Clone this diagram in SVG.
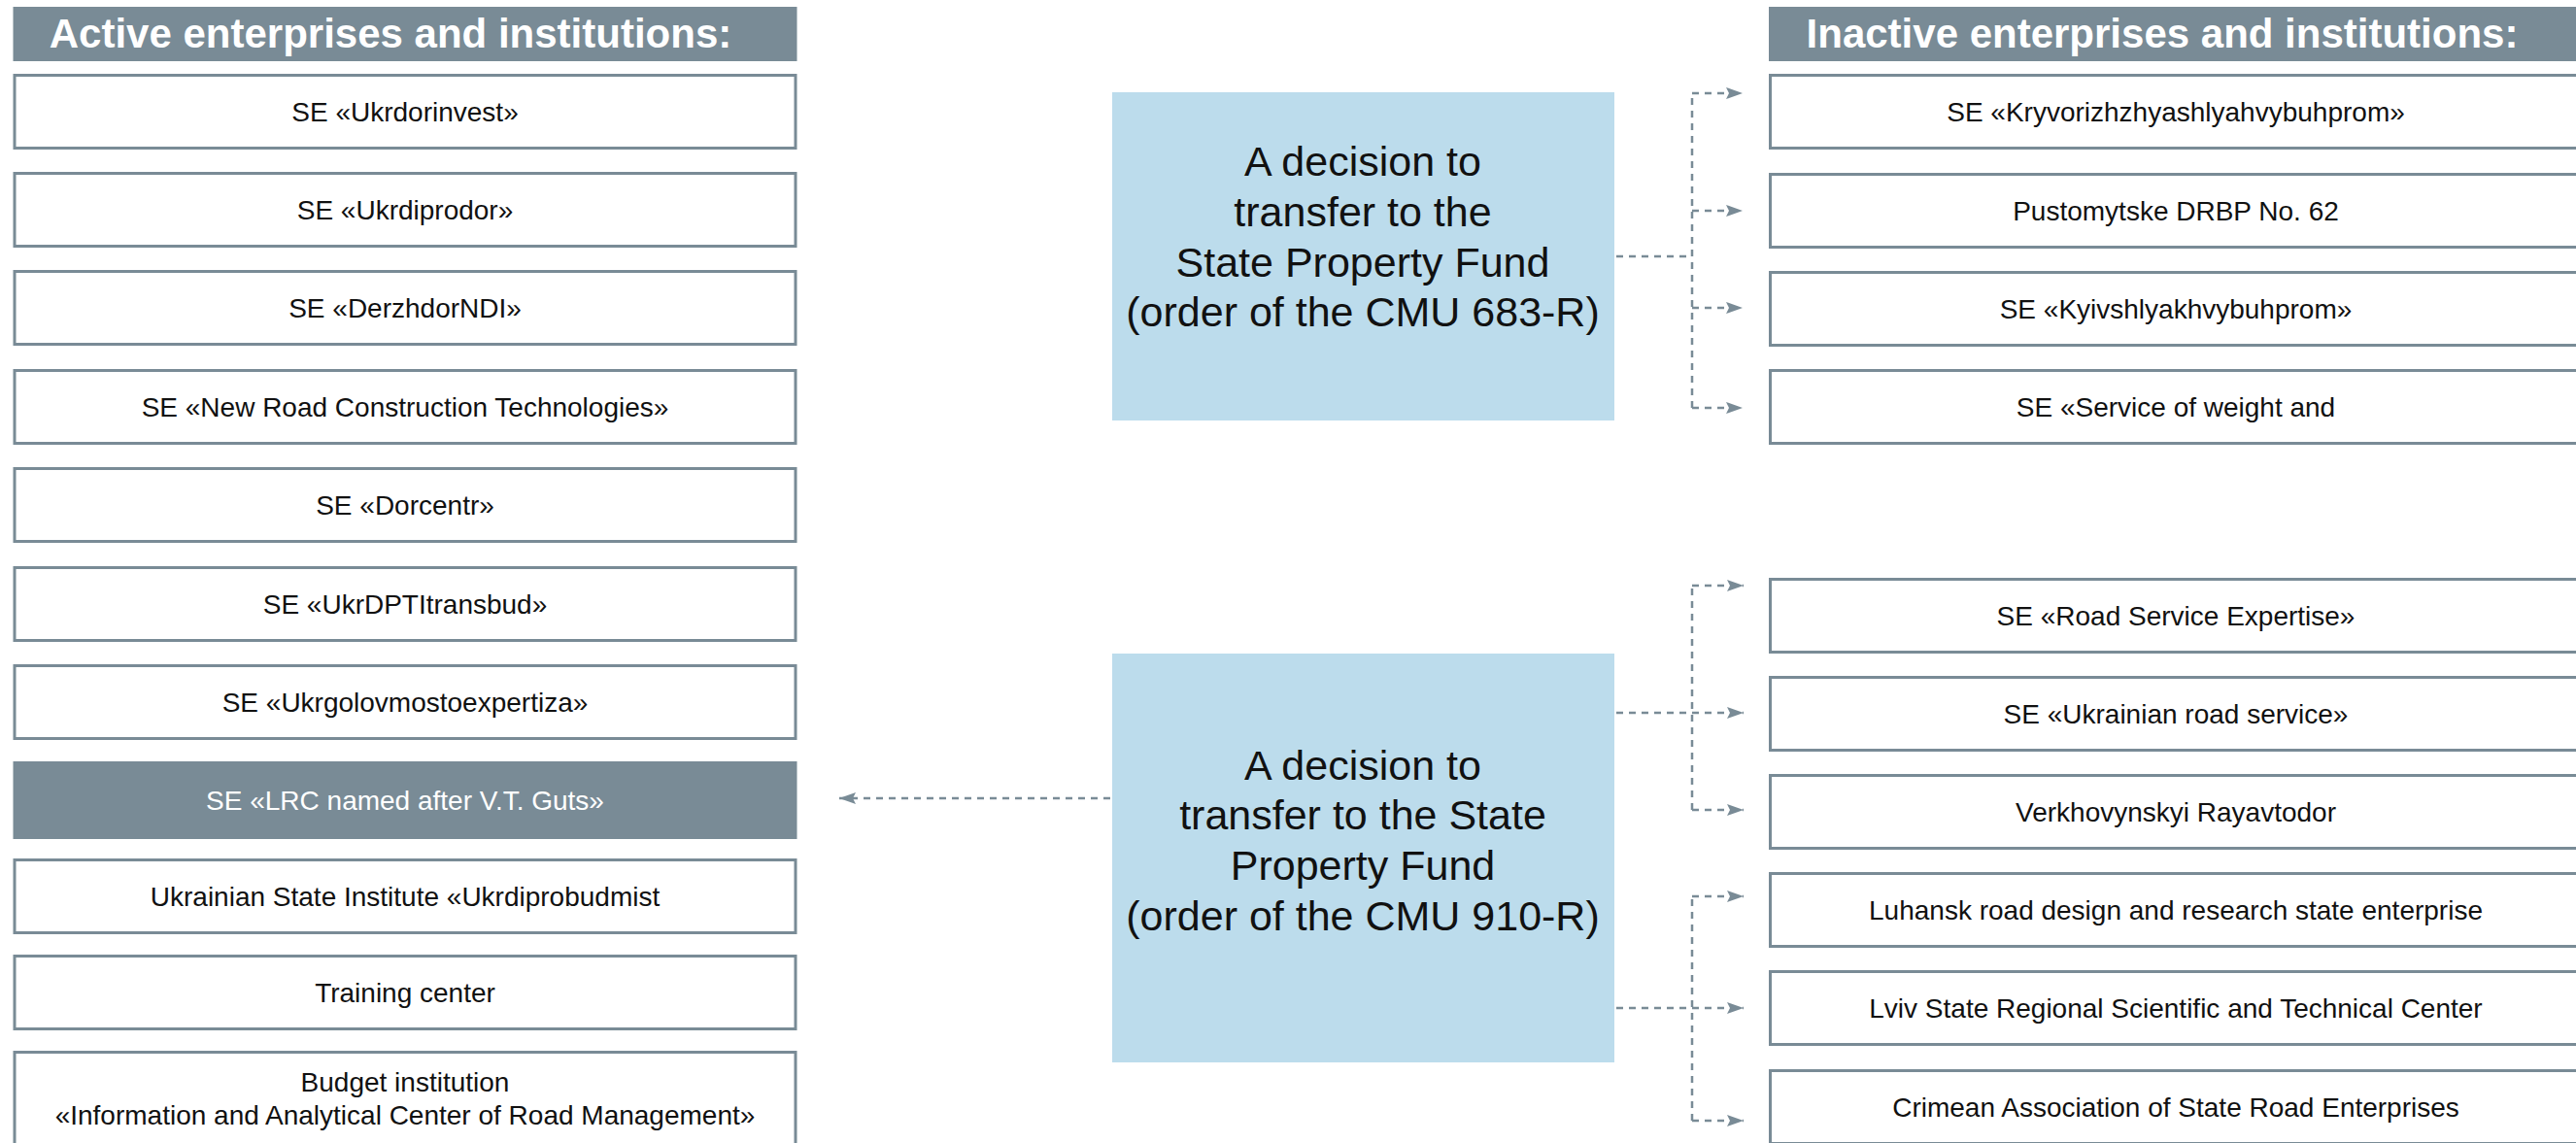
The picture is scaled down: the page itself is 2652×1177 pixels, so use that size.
<svg xmlns="http://www.w3.org/2000/svg" width="2652" height="1177" viewBox="0 0 2652 1177">
<defs>
<style>
.hdr{fill:#798b96}
.box{fill:#ffffff;stroke:#798b96;stroke-width:3}
.fill{fill:#798b96}
.dec{fill:#bcdcec}
.ht{font-family:"Liberation Sans",Arial,sans-serif;font-weight:bold;font-size:42px;fill:#ffffff;text-anchor:middle}
.t{font-family:"Liberation Sans",Arial,sans-serif;font-size:28px;fill:#111111;text-anchor:middle}
.tw{font-family:"Liberation Sans",Arial,sans-serif;font-size:28px;fill:#ffffff;text-anchor:middle}
.dt{font-family:"Liberation Sans",Arial,sans-serif;font-size:43px;fill:#111111;text-anchor:middle}
.c{fill:none;stroke:#798b96;stroke-width:2.5;stroke-dasharray:7 6}
</style>
<marker id="ah" markerUnits="userSpaceOnUse" markerWidth="18" markerHeight="14" refX="17" refY="7" orient="auto">
<path d="M0,1 L17,7 L0,13 L3,7 z" fill="#798b96"/>
</marker>
</defs>
<rect width="2652" height="1177" fill="#ffffff"/>

<g id="header-active">
<rect class="hdr" x="13.5" y="7" width="807" height="56"/>
<text class="ht" x="402" y="49">Active enterprises and institutions:</text>
</g>
<g id="header-inactive">
<rect class="hdr" x="1821" y="7" width="840" height="56"/>
<text class="ht" x="2226" y="49">Inactive enterprises and institutions:</text>
</g>

<g id="a1"><rect class="box" x="15" y="77.5" width="804" height="75"/><text class="t" x="417" y="125">SE «Ukrdorinvest»</text></g>
<g id="a2"><rect class="box" x="15" y="178.5" width="804" height="75"/><text class="t" x="417" y="226">SE «Ukrdiprodor»</text></g>
<g id="a3"><rect class="box" x="15" y="279.5" width="804" height="75"/><text class="t" x="417" y="327">SE «DerzhdorNDI»</text></g>
<g id="a4"><rect class="box" x="15" y="381.5" width="804" height="75"/><text class="t" x="417" y="429">SE «New Road Construction Technologies»</text></g>
<g id="a5"><rect class="box" x="15" y="482.5" width="804" height="75"/><text class="t" x="417" y="530">SE «Dorcentr»</text></g>
<g id="a6"><rect class="box" x="15" y="584.5" width="804" height="75"/><text class="t" x="417" y="632">SE «UkrDPTItransbud»</text></g>
<g id="a7"><rect class="box" x="15" y="685.5" width="804" height="75"/><text class="t" x="417" y="733">SE «Ukrgolovmostoexpertiza»</text></g>
<g id="a8"><rect class="fill" x="13.5" y="784" width="807" height="80"/><text class="tw" x="417" y="834">SE «LRC named after V.T. Guts»</text></g>
<g id="a9"><rect class="box" x="15" y="885.5" width="804" height="75"/><text class="t" x="417" y="933">Ukrainian State Institute «Ukrdiprobudmist</text></g>
<g id="a10"><rect class="box" x="15" y="984.5" width="804" height="75"/><text class="t" x="417" y="1032">Training center</text></g>
<g id="a11"><rect class="box" x="15" y="1083.5" width="804" height="120"/><text class="t" x="417" y="1124">Budget institution</text><text class="t" x="417" y="1158">«Information and Analytical Center of Road Management»</text></g>

<g id="d1"><rect class="dec" x="1145" y="95" width="517" height="338"/>
<text class="dt" x="1403" y="181">A decision to</text>
<text class="dt" x="1403" y="233">transfer to the</text>
<text class="dt" x="1403" y="285">State Property Fund</text>
<text class="dt" x="1403" y="336">(order of the CMU 683-R)</text></g>
<g id="d2"><rect class="dec" x="1145" y="673" width="517" height="421"/>
<text class="dt" x="1403" y="803">A decision to</text>
<text class="dt" x="1403" y="854">transfer to the State</text>
<text class="dt" x="1403" y="906">Property Fund</text>
<text class="dt" x="1403" y="958">(order of the CMU 910-R)</text></g>

<g id="i1"><rect class="box" x="1822.5" y="77.5" width="840" height="75"/><text class="t" x="2240" y="125">SE «Kryvorizhzhyashlyahvybuhprom»</text></g>
<g id="i2"><rect class="box" x="1822.5" y="179.5" width="840" height="75"/><text class="t" x="2240" y="227">Pustomytske DRBP No. 62</text></g>
<g id="i3"><rect class="box" x="1822.5" y="280.5" width="840" height="75"/><text class="t" x="2240" y="328">SE «Kyivshlyakhvybuhprom»</text></g>
<g id="i4"><rect class="box" x="1822.5" y="381.5" width="840" height="75"/><text class="t" x="2240" y="429">SE «Service of weight and</text></g>
<g id="i5"><rect class="box" x="1822.5" y="596.5" width="840" height="75"/><text class="t" x="2240" y="644">SE «Road Service Expertise»</text></g>
<g id="i6"><rect class="box" x="1822.5" y="697.5" width="840" height="75"/><text class="t" x="2240" y="745">SE «Ukrainian road service»</text></g>
<g id="i7"><rect class="box" x="1822.5" y="798.5" width="840" height="75"/><text class="t" x="2240" y="846">Verkhovynskyi Rayavtodor</text></g>
<g id="i8"><rect class="box" x="1822.5" y="899.5" width="840" height="75"/><text class="t" x="2240" y="947">Luhansk road design and research state enterprise</text></g>
<g id="i9"><rect class="box" x="1822.5" y="1000.5" width="840" height="75"/><text class="t" x="2240" y="1048">Lviv State Regional Scientific and Technical Center</text></g>
<g id="i10"><rect class="box" x="1822.5" y="1102.5" width="840" height="75"/><text class="t" x="2240" y="1150">Crimean Association of State Road Enterprises</text></g>

<g id="connectors">
<path class="c" d="M1664,264 H1742"/>
<path class="c" d="M1742,420 V96"/>
<path class="c" d="M1742,96 H1794" marker-end="url(#ah)"/>
<path class="c" d="M1742,217 H1794" marker-end="url(#ah)"/>
<path class="c" d="M1742,317 H1794" marker-end="url(#ah)"/>
<path class="c" d="M1742,420 H1794" marker-end="url(#ah)"/>

<path class="c" d="M1742,834 V603"/>
<path class="c" d="M1742,603 H1795" marker-end="url(#ah)"/>
<path class="c" d="M1664,734 H1795" marker-end="url(#ah)"/>
<path class="c" d="M1742,834 H1795" marker-end="url(#ah)"/>

<path class="c" d="M1742,1154 V923"/>
<path class="c" d="M1742,923 H1795" marker-end="url(#ah)"/>
<path class="c" d="M1664,1038 H1795" marker-end="url(#ah)"/>
<path class="c" d="M1742,1154 H1795" marker-end="url(#ah)"/>

<path class="c" d="M1143,822 H864" marker-end="url(#ah)"/>
</g>
</svg>
